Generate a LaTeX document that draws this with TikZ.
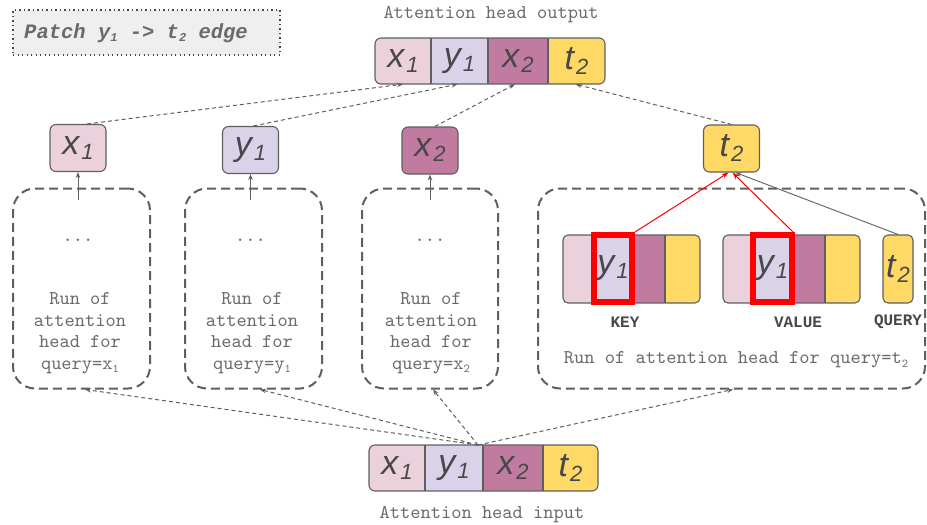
\documentclass[tikz,border=0pt]{standalone}
\usepackage{fontspec}
\setmainfont{Liberation Sans}
\setsansfont{Liberation Sans}
\setmonofont{Liberation Mono}
\newfontfamily\thinmono{lmmono10-regular.otf}
\usetikzlibrary{arrows.meta,calc}

\definecolor{tokA}{HTML}{EAD1DC}
\definecolor{tokB}{HTML}{D9D2E9}
\definecolor{tokC}{HTML}{C27BA0}
\definecolor{tokD}{HTML}{FFD966}
\definecolor{edgegray}{HTML}{5F5F5F}
\definecolor{inkgray}{HTML}{484848}
\definecolor{labelgray}{HTML}{6A6A6A}
\definecolor{patchfill}{HTML}{EFEFEF}

% italic sans token with a lowered index
\newcommand\symtok[2]{{\sffamily\itshape\fontsize{34}{34}\selectfont #1\kern2pt\raisebox{-5pt}{\fontsize{22}{22}\selectfont #2}}}
% lowered index for monospaced text
\newcommand\monosub[1]{\raisebox{-3.5pt}{\fontsize{12}{12}\selectfont #1}}

% a rounded strip of four token cells: name, left, b1, b2, b3, right, top, bottom
\newcommand\tokenstrip[8]{%
  \begin{scope}
    \clip[rounded corners=6pt] (#2,#7) rectangle (#6,#8);
    \fill[tokA] (#2,#7) rectangle (#3,#8);
    \fill[tokB] (#3,#7) rectangle (#4,#8);
    \fill[tokC] (#4,#7) rectangle (#5,#8);
    \fill[tokD] (#5,#7) rectangle (#6,#8);
  \end{scope}
  \draw[cellline] (#3,#7) -- (#3,#8) (#4,#7) -- (#4,#8) (#5,#7) -- (#5,#8);
  \draw[cellline,rounded corners=6pt] (#2,#7) rectangle (#6,#8);
  \node[celltext, minimum width={#3-#2}, minimum height={#8-#7}] (#1-a) at ({(#2+#3)/2},{(#7+#8)/2}) {\symtok{x}{1}};
  \node[celltext, minimum width={#4-#3}, minimum height={#8-#7}] (#1-b) at ({(#3+#4)/2},{(#7+#8)/2}) {\symtok{y}{1}};
  \node[celltext, minimum width={#5-#4}, minimum height={#8-#7}] (#1-c) at ({(#4+#5)/2},{(#7+#8)/2}) {\symtok{x}{2}};
  \node[celltext, minimum width={#6-#5}, minimum height={#8-#7}] (#1-d) at ({(#5+#6)/2},{(#7+#8)/2}) {\symtok{t}{2}};
}

% a rounded strip of four blank cells: left, b1, b2, b3, right, top, bottom
\newcommand\blankstrip[7]{%
  \begin{scope}
    \clip[rounded corners=5pt] (#1,#6) rectangle (#5,#7);
    \fill[tokA] (#1,#6) rectangle (#2,#7);
    \fill[tokB] (#2,#6) rectangle (#3,#7);
    \fill[tokC] (#3,#6) rectangle (#4,#7);
    \fill[tokD] (#4,#6) rectangle (#5,#7);
  \end{scope}
  \draw[cellline] (#2,#6) -- (#2,#7) (#3,#6) -- (#3,#7) (#4,#6) -- (#4,#7);
  \draw[cellline,rounded corners=5pt] (#1,#6) rectangle (#5,#7);
}

\begin{document}
\begin{tikzpicture}[x=1pt,y=-1pt,
  cellline/.style={draw=edgegray, line width=1.1pt},
  celltext/.style={inner sep=0pt, text=inkgray},
  tokbox/.style={draw=edgegray, line width=1.1pt, rounded corners=6pt,
    minimum width=56pt, minimum height=47pt, inner sep=0pt, text=inkgray},
  runbox/.style={draw=edgegray, line width=2pt, dash pattern=on 9pt off 5pt,
    rounded corners=22pt},
  runtext/.style={font=\thinmono\fontsize{19.5}{21.5}\selectfont, text=labelgray,
    align=center, inner sep=0pt},
  headlabel/.style={font=\thinmono\fontsize{19.5}{19.5}\selectfont, text=labelgray, inner sep=0pt},
  rolelabel/.style={font=\ttfamily\bfseries\fontsize{16}{16}\selectfont, text=inkgray, inner sep=0pt},
  dasharrow/.style={draw=edgegray, line width=1pt, dash pattern=on 4pt off 3pt,
    -{Stealth[length=6pt,width=4.5pt]}},
  feedarrow/.style={draw=edgegray, line width=0.9pt, -{Stealth[length=6pt,width=4.5pt]}},
  redarrow/.style={draw=red, line width=1pt, -{Stealth[length=7pt,width=5pt]}},
  redsel/.style={draw=red, line width=6pt, inner sep=0pt, fill=tokB, text=inkgray},
]
\useasboundingbox (0,0) rectangle (927,525);

% edge label
\node[draw=inkgray, line width=1.3pt, dash pattern=on 1.3pt off 3.2pt, fill=patchfill,
  minimum width=267pt, minimum height=45pt, inner sep=0pt] (patch) at (146.5,32.5) {};
\node[anchor=west, inner sep=0pt, text=labelgray,
  font=\ttfamily\bfseries\itshape\fontsize{20.5}{20.5}\selectfont] (patchtext) at (24,33)
  {Patch y\monosub{1} -> t\monosub{2} edge};

% output and input of the head
\node[headlabel] (outlabel) at (491,15) {Attention head output};
\tokenstrip{out}{375}{431}{488}{548}{605}{38}{84}
\tokenstrip{in}{369}{425}{483}{543}{598}{445}{491}
\node[headlabel] (inlabel) at (482,515) {Attention head input};

% per-query results
\node[tokbox, fill=tokA] (n1) at (78,148) {\symtok{x}{1}};
\node[tokbox, fill=tokB] (n2) at (250.5,150) {\symtok{y}{1}};
\node[tokbox, fill=tokC] (n3) at (430,150.5) {\symtok{x}{2}};
\node[tokbox, fill=tokD] (n4) at (731.5,148.5) {\symtok{t}{2}};

% runs of the attention head
\node[runbox, minimum width=137pt, minimum height=200pt] (box1) at (81.5,288.5) {};
\node[runbox, minimum width=137pt, minimum height=200pt] (box2) at (253.5,288.5) {};
\node[runbox, minimum width=136pt, minimum height=200pt] (box3) at (430,288.5) {};
\node[runbox, minimum width=387pt, minimum height=200pt] (box4) at (731.5,288.5) {};

\node[runtext] (dots1) at (78,240) {...};
\node[runtext] (dots2) at (250.5,240) {...};
\node[runtext] (dots3) at (430,240) {...};
\node[runtext] (run1) at (80,333) {Run of\\attention\\head for\\query=x\monosub{1}};
\node[runtext] (run2) at (252,333) {Run of\\attention\\head for\\query=y\monosub{1}};
\node[runtext] (run3) at (431,333) {Run of\\attention\\head for\\query=x\monosub{2}};
\node[runtext] (run4) at (736,360) {Run of attention head for query=t\monosub{2}};

% keys, values and query inside the run for t2
\blankstrip{563}{597}{631}{665}{700}{235}{303}
\blankstrip{723}{757}{791}{825}{860}{235}{303}
\node[redsel, minimum width=38pt, minimum height=67pt] (keysel) at (613,268.5) {\symtok{y}{1}};
\node[redsel, minimum width=39pt, minimum height=67pt] (valsel) at (772.5,268.5) {\symtok{y}{1}};
\node[tokbox, fill=tokD, minimum width=30pt, minimum height=68pt, rounded corners=5pt] (query) at (898,269) {\symtok{t}{2}};
\node[rolelabel] (keylabel) at (625,322) {KEY};
\node[rolelabel] (vallabel) at (798,322) {VALUE};
\node[rolelabel] (querylabel) at (898,322) {QUERY};

% the patched edge and the query edge
\draw[redarrow] (keysel.north east) -- ([xshift=-3pt]n4.south);
\draw[redarrow] ([xshift=-2pt]valsel.north east) -- ([xshift=1pt]n4.south);
\draw[draw=edgegray, line width=0.9pt, -{Stealth[length=6pt,width=4.5pt]}] (query.north) -- ([xshift=4pt]n4.south);

% results leave each run
\draw[feedarrow] ([yshift=-12pt]n1.south |- box1.north) -- (n1.south);
\draw[feedarrow] ([yshift=-12pt]n2.south |- box2.north) -- (n2.south);
\draw[feedarrow] ([yshift=-12pt]n3.south |- box3.north) -- (n3.south);

% results gathered into the output
\draw[dasharrow] ([xshift=9pt]n1.north) -- (out-a.south);
\draw[dasharrow] ([xshift=3pt]n2.north) -- ([xshift=-2pt]out-b.south);
\draw[dasharrow] ([xshift=5pt]n3.north) -- ([xshift=-3pt]out-c.south);
\draw[dasharrow] (n4.north) -- ([xshift=-1pt]out-d.south);

% the input feeds every run
\coordinate (feed) at (478,445);
\draw[dasharrow] (feed) -- ([xshift=3.5pt]box1.south);
\draw[dasharrow] (feed) -- ([xshift=6.5pt]box2.south);
\draw[dasharrow] (feed) -- ([xshift=3pt]box3.south);
\draw[dasharrow] (feed) -- ([xshift=1.5pt]box4.south);
\end{tikzpicture}
\end{document}
